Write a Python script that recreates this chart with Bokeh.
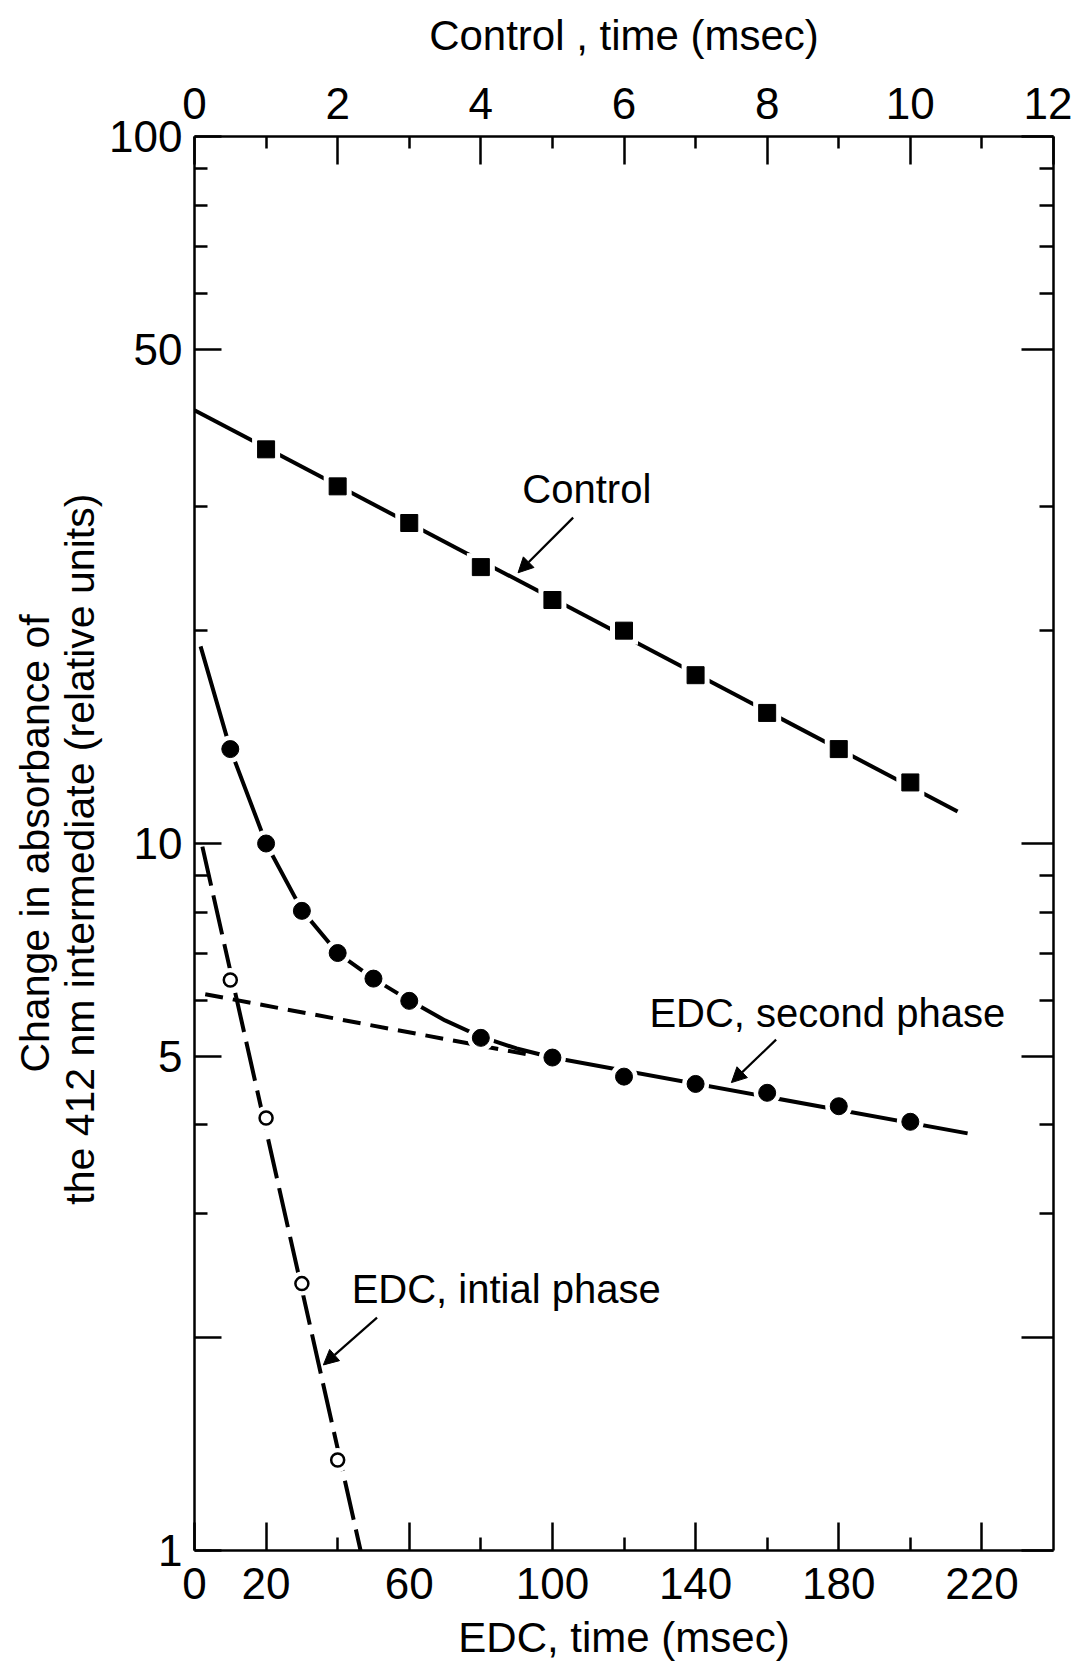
import math
from bokeh.plotting import figure
from bokeh.models import (Range1d, LinearAxis, LogAxis, FixedTicker, CustomJSTickFormatter,
                          Label, Arrow, NormalHead)
from bokeh.embed import file_html
from bokeh.resources import INLINE

# ---------------- data ----------------
# Control (filled squares), top axis: time in ms
ctrl_t = [1, 2, 3, 4, 5, 6, 7, 8, 9, 10]
ctrl_v = [36.1, 32.0, 28.4, 24.6, 22.1, 20.0, 17.3, 15.3, 13.6, 12.2]
ctrl_fit_t = [0, 10.66]
ctrl_fit_v = [41.0, 11.1]

# EDC total signal (filled circles), bottom axis: time in ms
edc2_t = [10, 20, 30, 40, 50, 60, 80, 100, 120, 140, 160, 180, 200]
edc2_v = [13.6, 10.0, 8.03, 7.0, 6.44, 5.99, 5.31, 4.98, 4.68, 4.57, 4.44, 4.25, 4.04]
edc_fit_t = [1.7, 10, 20, 30, 40, 50, 60, 70, 80, 90, 100, 216]
edc_fit_v = [19.0, 13.6, 10.0, 8.05, 7.0, 6.44, 6.0, 5.62, 5.33, 5.13, 4.98, 3.89]

# EDC second phase extrapolation (short dashes)
edc2_fit_t = [3, 94]
edc2_fit_v = [6.12, 5.02]

# EDC initial phase (open circles)
edc1_t = [10, 20, 30, 40]
edc1_v = [6.41, 4.09, 2.385, 1.343]
edc1_fit_t = [2.2, 46.4]
edc1_fit_v = [9.9, 1.0]

# tick definitions
edc_ticks = [0, 20, 60, 100, 140, 180, 220]
edc_minor = [40, 80, 120, 160, 200]
ctrl_ticks = [0, 2, 4, 6, 8, 10, 12]
ctrl_minor = [1, 3, 5, 7, 9, 11]
y_ticks = [1, 2, 5, 10, 50, 100]
y_minor = [3, 4, 6, 7, 8, 9, 20, 30, 60, 70, 80, 90]

FONT = "Liberation Sans"
TICK_FS = "44px"
XLAB_FS = "42px"
YLAB_FS = "41px"
ANNO_FS = "40px"

p = figure(width=1072, height=1663, x_range=Range1d(0, 240), y_range=Range1d(1, 100),
           y_axis_type="log", output_backend="svg", toolbar_location=None,
           min_border_left=194, min_border_right=19, min_border_top=136, min_border_bottom=112)
p.extra_x_ranges = {"control": Range1d(0, 12)}
p.outline_line_color = None
p.xgrid.grid_line_color = None
p.ygrid.grid_line_color = None
p.background_fill_color = "white"
p.border_fill_color = "white"


def style(ax, major_in=28, minor_in=13, lab_fs=XLAB_FS):
    ax.axis_line_width = 2.5
    ax.axis_line_color = "black"
    ax.major_tick_line_width = 2.5
    ax.minor_tick_line_width = 2.5
    ax.major_tick_line_color = "black"
    ax.minor_tick_line_color = "black"
    ax.major_tick_in = major_in
    ax.major_tick_out = 0
    ax.minor_tick_in = minor_in
    ax.minor_tick_out = 0
    ax.major_label_text_font = FONT
    ax.major_label_text_font_size = TICK_FS
    ax.major_label_text_color = "black"
    ax.axis_label_text_font = FONT
    ax.axis_label_text_font_size = lab_fs
    ax.axis_label_text_font_style = "normal"
    ax.axis_label_text_color = "black"


bottom = p.xaxis[0]
bottom.ticker = FixedTicker(ticks=edc_ticks, minor_ticks=edc_minor)
bottom.formatter = CustomJSTickFormatter(code="return String(tick)")
bottom.axis_label = "EDC, time (msec)"
style(bottom, 28, 13)
bottom.major_label_standoff = 17
bottom.axis_label_standoff = 12

left = p.yaxis[0]
left.ticker = FixedTicker(ticks=y_ticks, minor_ticks=y_minor)
left.formatter = CustomJSTickFormatter(code="return tick == 2 ? '' : String(tick)")
left.axis_label = "the 412 nm intermediate  (relative units)"
style(left, 27, 13, YLAB_FS)
left.major_label_standoff = 12
left.axis_label_standoff = 3

outer = LogAxis(ticker=FixedTicker(ticks=[]),
                formatter=CustomJSTickFormatter(code="return ''"),
                axis_label="Change in absorbance of")
style(outer, 0, 0, YLAB_FS)
outer.axis_line_color = None
outer.major_label_standoff = 0
outer.axis_label_standoff = -3
p.add_layout(outer, "left")

top = LinearAxis(x_range_name="control",
                 ticker=FixedTicker(ticks=ctrl_ticks, minor_ticks=ctrl_minor),
                 formatter=CustomJSTickFormatter(code="return String(tick)"),
                 axis_label="Control , time (msec)")
style(top, 28, 12)
top.major_label_standoff = 18
top.axis_label_standoff = 26
p.add_layout(top, "above")

right = LogAxis(ticker=FixedTicker(ticks=y_ticks, minor_ticks=y_minor),
                formatter=CustomJSTickFormatter(code="return ''"))
style(right, 32, 14)
right.major_label_standoff = 0
p.add_layout(right, "right")

# ---------------- glyphs ----------------
LW = 4
p.line(ctrl_fit_t, ctrl_fit_v, x_range_name="control", line_width=LW, color="black")
p.line(edc_fit_t, edc_fit_v, line_width=LW, color="black")
p.line(edc2_fit_t, edc2_fit_v, line_width=LW, color="black", line_dash="18 10")
p.line(edc1_fit_t, edc1_fit_v, line_width=LW, color="black", line_dash="40 10")

# white halos that break the lines around the markers
p.scatter(ctrl_t, ctrl_v, x_range_name="control", marker="square", size=28,
          fill_color="white", line_color=None)
p.scatter(edc2_t, edc2_v, marker="circle", size=27, fill_color="white", line_color=None)
p.scatter(edc1_t, edc1_v, marker="circle", size=24, fill_color="white", line_color=None)

p.scatter(ctrl_t, ctrl_v, x_range_name="control", marker="square", size=17,
          fill_color="black", line_color="black", line_width=1)
p.scatter(edc2_t, edc2_v, marker="circle", size=17, fill_color="black", line_color="black")
p.scatter(edc1_t, edc1_v, marker="circle", size=13, fill_color="white",
          line_color="black", line_width=2.5)

# ---------------- annotations ----------------
def label(x, y, text):
    p.add_layout(Label(x=x, y=y, text=text, text_font=FONT, text_font_size=ANNO_FS,
                       text_align="left", text_baseline="middle", text_color="black"))


label(91.6, 31.7, "Control")
label(127.1, 5.75, "EDC, second phase")
label(43.9, 2.34, "EDC, intial phase")


def arrow(x0, y0, x1, y1):
    p.add_layout(Arrow(x_start=x0, y_start=y0, x_end=x1, y_end=y1, line_width=2.2,
                       line_color="black",
                       end=NormalHead(size=15, fill_color="black", line_color="black",
                                      line_width=1)))


arrow(105.8, 28.9, 90.4, 24.15)
arrow(162.5, 5.28, 150.0, 4.59)
arrow(51.0, 2.135, 36.0, 1.83)

open("out.html", "w").write(file_html(p, INLINE))
